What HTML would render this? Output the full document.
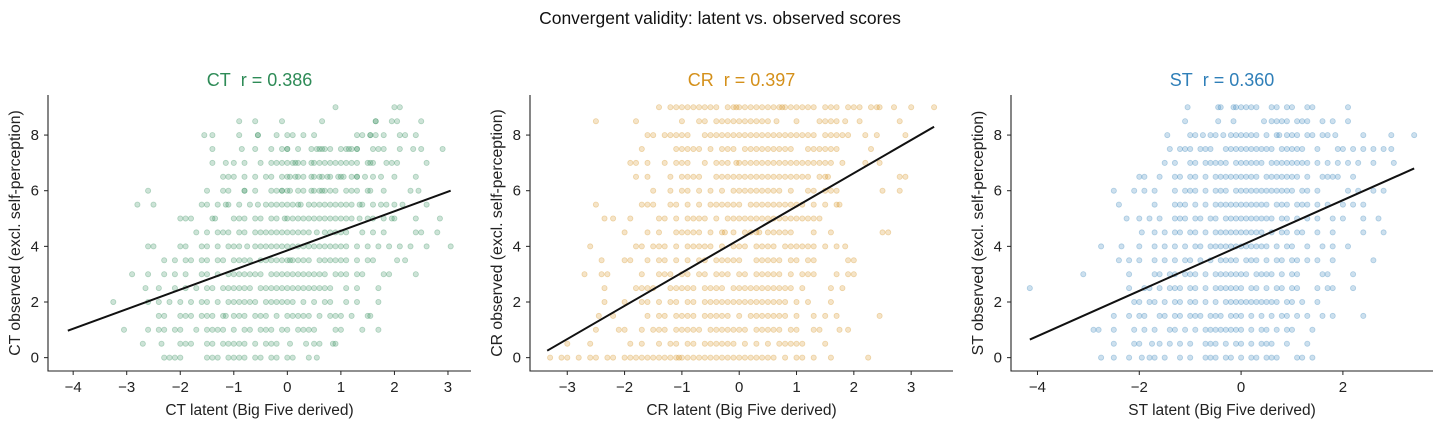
<!DOCTYPE html>
<html><head><meta charset="utf-8"><style>
html,body{margin:0;padding:0;background:#fff;}
svg{display:block;font-family:"Liberation Sans",sans-serif;}
</style></head><body>
<svg id="chart" width="1440" height="429" viewBox="0 0 1440 429" xmlns="http://www.w3.org/2000/svg">
<text x="720" y="24" text-anchor="middle" font-size="17.5" fill="#111">Convergent validity: latent vs. observed scores</text>
</svg>
<script>
const rowLevels = [9,8.5,8,7.5,7,6.5,6,5.5,5,4.5,4,3.5,3,2.5,2,1.5,1,0.5,0];
const ctRows = [
[0.9,2.0,2.1],
[-0.9,-0.6,-0.1,0.65,1.65,1.65,1.95,2.05,2.5],
[-1.55,-1.4,-0.9,-0.55,-0.55,-0.2,0,0.1,0.3,0.5,1.3,1.4,1.55,1.55,1.65,1.8,2.1,2.2,2.4],
[-1.4,-0.85,-0.6,-0.3,-0.1,0,0,0.2,0.45,0.55,0.6,0.65,0.7,0.8,1.0,1.1,1.15,1.2,1.3,1.3,1.6,1.7,1.8,2.1,2.35,2.5,2.9],
[-1.4,-1.15,-1,-0.8,-0.5,-0.3,-0.2,-0.1,0,0.1,0.15,0.2,0.3,0.45,0.5,0.6,0.7,0.8,0.9,1,1.1,1.2,1.3,1.5,1.55,1.6,1.85,1.95,2.05,2.6],
[-1.2,-1.1,-1,-0.8,-0.6,-0.4,-0.3,-0.1,0,0.05,0.15,0.2,0.3,0.45,0.5,0.6,0.65,0.75,0.8,0.95,1,1.05,1.2,1.3,1.3,1.45,1.6,1.75,2,2.4],
[-2.6,-1.5,-1.2,-1.1,-0.8,-0.8,-0.6,-0.3,-0.2,-0.1,-0.1,0,0.05,0.2,0.3,0.45,0.5,0.6,0.65,0.7,0.8,0.9,1.1,1.2,1.3,1.5,1.55,1.8,2.3,2.45],
[-2.8,-2.5,-1.6,-1.5,-1.3,-1.15,-1.1,-0.9,-0.7,-0.55,-0.4,-0.3,-0.2,-0.1,0,0.1,0.2,0.25,0.4,0.5,0.6,0.7,0.8,0.9,1,1.1,1.2,1.35,1.4,1.6,1.75,1.85,2.0,2.15,2.6],
[-2,-1.9,-1.8,-1.4,-1.35,-1,-0.9,-0.8,-0.6,-0.5,-0.3,-0.2,-0.05,0,0.1,0.2,0.3,0.4,0.5,0.6,0.7,0.8,0.9,1.0,1.1,1.2,1.35,1.5,1.6,1.8,1.95,2.0,2.4,2.85],
[-1.7,-1.5,-1.3,-1.2,-1.1,-0.9,-0.8,-0.6,-0.5,-0.4,-0.3,-0.2,-0.1,0,0.1,0.2,0.3,0.4,0.55,0.7,0.8,0.9,1.0,1.1,1.4,1.6,1.8,2.4,2.5,2.8],
[-2.6,-2.5,-2.0,-1.9,-1.6,-1.5,-1.3,-1.1,-1,-0.9,-0.75,-0.6,-0.5,-0.4,-0.3,-0.2,-0.1,0,0.1,0.2,0.3,0.4,0.5,0.6,0.7,0.8,0.9,1.0,1.1,1.3,1.5,1.7,1.9,2.1,2.3,2.6,3.05],
[-2.3,-2.1,-1.9,-1.8,-1.6,-1.5,-1.3,-1.2,-1.0,-0.9,-0.8,-0.7,-0.5,-0.4,-0.3,-0.2,-0.1,0,0.05,0.1,0.2,0.3,0.4,0.6,0.7,0.8,0.9,1.0,1.1,1.3,1.5,1.6,2.05,2.2],
[-2.9,-2.6,-2.3,-2.1,-1.9,-1.6,-1.5,-1.3,-1.1,-1,-0.9,-0.8,-0.7,-0.6,-0.5,-0.3,-0.2,-0.1,0,0.1,0.2,0.3,0.4,0.5,0.6,0.7,0.9,1.0,1.1,1.3,1.4,1.8,1.9,2.4],
[-2.65,-2.4,-2.1,-1.9,-1.7,-1.5,-1.4,-1.2,-1.1,-1,-0.9,-0.8,-0.7,-0.5,-0.4,-0.3,-0.2,-0.1,0,0.1,0.2,0.3,0.4,0.5,0.6,0.7,0.8,1.1,1.3,1.7],
[-3.25,-2.6,-2.4,-2.2,-2.0,-1.8,-1.6,-1.5,-1.3,-1.1,-1,-0.9,-0.8,-0.7,-0.6,-0.4,-0.3,-0.2,-0.1,0,0.1,0.3,0.5,0.7,0.8,1.1,1.3,1.7],
[-2.4,-2.3,-2.0,-1.9,-1.8,-1.6,-1.5,-1.4,-1.2,-1.15,-1,-0.9,-0.8,-0.6,-0.5,-0.4,-0.2,0,0.1,0.2,0.3,0.4,0.6,0.8,0.9,1.0,1.2,1.5,1.55],
[-3.05,-2.6,-2.4,-2.3,-2.1,-2.0,-1.7,-1.5,-1.4,-1.3,-1.2,-1.0,-0.8,-0.7,-0.5,-0.4,-0.3,-0.1,0,0.2,0.3,0.4,0.5,0.9,1.0,1.4,1.7],
[-2.7,-2.35,-2.0,-1.9,-1.8,-1.5,-1.4,-1.2,-1.1,-1,-0.9,-0.8,-0.6,-0.4,-0.3,-0.2,0.05,0.35,0.5,0.6,0.85,0.9],
[-2.3,-2.2,-2.1,-2.0,-1.5,-1.4,-1.3,-1.1,-1,-0.9,-0.8,-0.6,-0.5,-0.3,-0.2,0,0.1,0.4,0.55]
];
const crRows = [
[-1.4,-1.2,-1.1,-1,-0.9,-0.8,-0.7,-0.6,-0.5,-0.4,-0.2,-0.1,-0.05,0,0.1,0.2,0.3,0.4,0.5,0.6,0.7,0.75,0.8,0.9,1,1.1,1.2,1.3,1.5,1.6,1.7,1.9,2.0,2.1,2.3,2.4,2.45,2.7,3.0,3.4],
[-2.5,-1.8,-1.0,-0.7,-0.6,-0.4,-0.3,-0.2,-0.1,0,0.1,0.2,0.3,0.4,0.5,0.65,1.0,1.4,1.5,1.6,1.7,1.85,2.1,2.8],
[-1.6,-1.5,-1.3,-1.2,-1.1,-1.0,-0.9,-0.6,-0.5,-0.4,-0.3,-0.2,-0.1,0,0.1,0.2,0.3,0.4,0.5,0.6,0.7,0.8,0.9,1,1.1,1.2,1.3,1.5,1.6,1.7,1.8,1.9,2.2,2.4,2.9],
[-1.7,-1.1,-1.0,-0.9,-0.8,-0.7,-0.5,-0.3,-0.2,-0.1,0.1,0.2,0.3,0.4,0.5,0.6,0.7,0.8,0.9,1.2,1.3,1.4,1.5,1.6,1.7,2.3],
[-1.9,-1.8,-1.6,-1.3,-1.1,-1,-0.9,-0.6,-0.4,-0.3,-0.2,-0.05,0,0.1,0.2,0.3,0.4,0.5,0.6,0.7,0.8,0.9,1,1.1,1.2,1.3,1.4,1.5,1.6,1.8,2.2,2.45],
[-1.8,-1.6,-1.2,-1,-0.9,-0.8,-0.7,-0.4,-0.3,-0.2,-0.1,0,0.1,0.2,0.3,0.4,0.5,0.6,0.7,0.8,0.9,1.0,1.1,1.2,1.4,1.5,1.55,2.8,2.9],
[-1.5,-1.2,-1.0,-0.9,-0.7,-0.5,-0.3,-0.1,0,0.1,0.2,0.3,0.4,0.5,0.6,0.7,0.9,1.2,1.3,1.5,1.6,1.7,2.5,2.8],
[-2.5,-1.7,-1.6,-1.5,-1.2,-1.1,-0.9,-0.7,-0.5,-0.4,-0.3,-0.2,-0.1,0,0.2,0.3,0.4,0.5,0.6,0.7,0.8,0.9,1,1.1,1.3,1.5,1.7,1.75],
[-2.35,-2.2,-1.9,-1.4,-1.3,-1.1,-0.9,-0.8,-0.7,-0.6,-0.4,-0.2,-0.1,0,0.1,0.2,0.3,0.4,0.5,0.6,0.7,0.8,0.9,1.0,1.1,1.2,1.3,1.4],
[-2.0,-1.6,-1.4,-1.1,-1,-0.9,-0.8,-0.7,-0.5,-0.3,-0.25,-0.1,0.1,0.2,0.3,0.35,0.5,0.6,0.7,0.8,0.9,1.3,1.6,2.5,2.6],
[-2.6,-1.8,-1.7,-1.5,-1.4,-1.3,-1.1,-0.9,-0.8,-0.7,-0.6,-0.5,-0.3,-0.1,0,0.1,0.3,0.4,0.5,0.6,0.8,0.9,1,1.1,1.2,1.3,1.5,1.7,1.85],
[-2.4,-2.0,-1.9,-1.6,-1.4,-1.3,-1.1,-0.9,-0.7,-0.6,-0.4,-0.3,-0.2,-0.1,0,0.3,0.4,0.5,0.6,0.7,0.9,1.0,1.2,1.3,1.9,2.0],
[-2.7,-2.4,-2.3,-1.7,-1.4,-1.3,-1.2,-1.0,-0.9,-0.7,-0.6,-0.4,-0.3,-0.2,0,0.1,0.3,0.4,0.5,0.6,0.7,0.9,1.1,1.2,1.3,1.7,1.9,2.0],
[-2.35,-1.8,-1.7,-1.6,-1.5,-1.2,-1.1,-1,-0.9,-0.8,-0.6,-0.5,-0.4,-0.3,-0.1,0,0.1,0.2,0.3,0.4,0.5,0.6,0.7,0.8,0.9,1.1,1.6,1.8],
[-2.35,-2.0,-1.7,-1.6,-1.4,-1.2,-1.1,-0.9,-0.8,-0.6,-0.5,-0.4,-0.3,-0.2,-0.1,0,0.1,0.2,0.3,0.4,0.5,0.6,0.7,0.8,1.0,1.2,1.6],
[-2.45,-2.2,-1.6,-1.4,-1.3,-1.1,-1.0,-0.9,-0.8,-0.6,-0.5,-0.4,-0.3,-0.2,0,0.2,0.3,0.4,0.5,0.6,0.7,0.8,1.0,1.3,1.5,1.7,2.45],
[-2.5,-2.1,-2.0,-1.7,-1.5,-1.4,-1.3,-1.1,-1,-0.9,-0.8,-0.7,-0.5,-0.4,-0.3,-0.2,-0.1,0,0.1,0.3,0.4,0.5,0.6,0.7,0.9,1.0,1.3,1.4,1.75,1.9],
[-3.0,-2.6,-1.9,-1.7,-1.4,-1.2,-1.1,-0.9,-0.8,-0.6,-0.5,-0.4,-0.3,-0.2,-0.1,0.1,0.3,0.5,0.7,0.8,0.9,1.0,1.1,1.5],
[-3.3,-3.1,-3.0,-2.8,-2.6,-2.5,-2.3,-2.2,-2.0,-1.9,-1.8,-1.7,-1.6,-1.5,-1.4,-1.3,-1.2,-1.1,-1.05,-1,-0.9,-0.8,-0.7,-0.6,-0.5,-0.4,-0.3,-0.2,-0.1,0,0.1,0.2,0.3,0.4,0.5,0.6,0.8,1.0,1.1,1.3,1.6,2.25]
];
const stRows = [
[-1.05,-0.45,-0.4,-0.15,-0.1,0,0.1,0.2,0.3,0.6,0.7,0.9,1.0,1.3,1.4,2.1],
[-1.1,-0.45,-0.15,0.45,0.6,0.7,0.8,0.9,1.1,1.2,1.3,1.6,1.8,2.1],
[-1.45,-1.0,-0.9,-0.75,-0.6,-0.5,-0.35,-0.2,-0.1,0,0.1,0.2,0.3,0.5,0.7,0.75,0.9,1.0,1.1,1.3,1.4,1.6,1.7,1.85,2.4,2.95,3.4],
[-1.4,-1.2,-1.1,-1.0,-0.8,-0.7,-0.6,-0.3,-0.2,-0.1,0,0.1,0.2,0.3,0.4,0.5,0.6,0.8,0.9,1,1.1,1.2,1.5,1.9,2.0,2.2,2.4,2.6,2.8,2.95],
[-1.5,-1.3,-1,-0.9,-0.7,-0.6,-0.5,-0.4,-0.3,-0.1,0,0.1,0.2,0.3,0.4,0.6,0.7,0.8,0.9,1.0,1.1,1.2,1.3,1.5,1.7,1.9,2.1,2.3,2.6,3.0],
[-2.0,-1.9,-1.6,-1.3,-1.2,-1.0,-0.9,-0.7,-0.5,-0.4,-0.3,-0.2,-0.1,0,0.1,0.2,0.3,0.5,0.6,0.7,0.8,0.9,1.0,1.1,1.3,1.6,1.7,1.8,1.9,2.2],
[-2.5,-2.1,-1.9,-1.7,-1.3,-1.1,-1,-0.9,-0.7,-0.5,-0.4,-0.3,-0.1,0,0.1,0.2,0.3,0.4,0.5,0.6,0.7,0.8,0.9,1.0,1.2,1.3,1.5,2.1,2.3,2.6,2.8],
[-2.4,-1.7,-1.3,-1.2,-1.1,-0.9,-0.7,-0.5,-0.4,-0.3,-0.2,-0.1,0,0.1,0.2,0.3,0.4,0.5,0.7,0.8,0.9,1.1,1.2,1.3,1.5,1.7,2.0,2.2,2.4],
[-2.25,-2.0,-1.8,-1.6,-1.3,-1.2,-1.1,-0.9,-0.8,-0.6,-0.5,-0.3,-0.2,-0.1,0,0.1,0.2,0.3,0.4,0.5,0.6,0.8,0.9,1.1,1.3,1.5,1.8,2.0,2.4,2.7],
[-1.95,-1.7,-1.5,-1.3,-1.2,-1.0,-0.9,-0.7,-0.5,-0.4,-0.3,-0.2,-0.1,0,0.1,0.2,0.3,0.4,0.6,0.8,0.9,1.1,1.2,1.5,1.8,2.4,2.8],
[-2.75,-2.35,-2.0,-1.7,-1.5,-1.3,-1.1,-0.9,-0.8,-0.6,-0.5,-0.4,-0.3,-0.2,-0.1,0,0.1,0.2,0.3,0.4,0.5,0.7,0.9,1.0,1.3,1.6,1.8,2.1],
[-2.4,-2.2,-2.0,-1.7,-1.5,-1.3,-1.1,-1.0,-0.8,-0.6,-0.4,-0.3,-0.2,-0.1,0.1,0.2,0.3,0.5,0.7,0.8,1.0,1.1,1.3,1.5,1.8,2.6],
[-3.1,-2.2,-1.7,-1.6,-1.4,-1.3,-1.1,-1,-0.9,-0.7,-0.5,-0.4,-0.3,-0.2,-0.1,0,0.1,0.3,0.4,0.5,0.6,0.8,1.0,1.1,1.6,1.7,2.2],
[-4.15,-2.2,-1.9,-1.8,-1.6,-1.4,-1.3,-1.2,-1.0,-0.9,-0.7,-0.5,-0.4,-0.3,-0.2,-0.1,0,0.2,0.3,0.5,0.7,0.8,1.0,1.1,1.5,1.7,1.8,2.2],
[-2.1,-2.0,-1.8,-1.7,-1.5,-1.3,-1.2,-1.0,-0.9,-0.7,-0.5,-0.3,-0.2,-0.1,0,0.1,0.2,0.3,0.4,0.5,0.6,0.7,0.9,1.0,1.2,1.5],
[-2.5,-2.2,-2.0,-1.9,-1.6,-1.5,-1.3,-1.2,-1.0,-0.9,-0.8,-0.6,-0.5,-0.4,-0.2,-0.1,0,0.2,0.4,0.6,0.8,0.9,1.1,1.3,1.6,1.8,2.4],
[-2.9,-2.8,-2.5,-2.1,-1.9,-1.7,-1.4,-1.3,-1.1,-0.9,-0.7,-0.6,-0.5,-0.4,-0.3,-0.2,-0.1,0,0.2,0.4,0.5,0.7,0.9,1.0,1.4],
[-2.5,-2.1,-2.0,-1.75,-1.6,-1.4,-1.2,-1,-0.7,-0.6,-0.5,-0.3,-0.1,0,0.2,0.4,0.5,0.6,0.9,1.3],
[-2.75,-2.5,-2.2,-1.95,-1.8,-1.7,-1.5,-1.2,-1.0,-0.7,-0.6,-0.5,-0.3,-0.2,0,0.2,0.3,0.5,0.6,0.7,1.1,1.2,1.4]
];
const panelKeys = ["CT","CR","ST"];
const panelR = ["0.386","0.397","0.360"];
const fitStart = [[-4.1,0.97],[-3.35,0.25],[-4.15,0.65]];
const fitEnd = [[3.05,6.0],[3.4,8.3],[3.4,6.8]];
const xTicks = [[-4,-3,-2,-1,0,1,2,3],[-3,-2,-1,0,1,2,3],[-4,-2,0,2]];
const yTicks = [0,2,4,6,8];

const NS="http://www.w3.org/2000/svg";
const svg=document.getElementById('chart');
const colors=["#2e8b57","#d4901a","#2f7fb8"];
const layout=[{l:48,r:471,xmin:-4.47,xmax:3.43},{l:530,r:953,xmin:-3.65,xmax:3.73},{l:1011,r:1433,xmin:-4.52,xmax:3.77}];
const TOP=95,BOT=371,YMIN=-0.48,YMAX=9.44;
function mk(tag,attrs,parent){const e=document.createElementNS(NS,tag);for(const k in attrs)e.setAttribute(k,attrs[k]);(parent||svg).appendChild(e);return e;}
const allRows=[ctRows,crRows,stRows];
panelKeys.forEach((key,p)=>{
  const L=layout[p],col=colors[p];
  const xs=v=>L.l+(v-L.xmin)/(L.xmax-L.xmin)*(L.r-L.l);
  const ys=v=>BOT-(v-YMIN)/(YMAX-YMIN)*(BOT-TOP);
  const g=mk('g',{});
  
  
  const pts=mk('g',{},g);
  
  
  allRows[p].forEach((row,i)=>{row.forEach(x=>{
    const c=mk('circle',{cx:xs(x).toFixed(1),cy:ys(rowLevels[i]).toFixed(1),r:2.6,fill:col,'fill-opacity':0.24,stroke:col,'stroke-opacity':0.32,'stroke-width':0.8},pts);
    
    
  });});
  const fl=mk('line',{x1:xs(fitStart[p][0]),y1:ys(fitStart[p][1]),x2:xs(fitEnd[p][0]),y2:ys(fitEnd[p][1]),stroke:'#111','stroke-width':2},g);
  
  
  const ax=mk('path',{d:`M${L.l} ${TOP}V${BOT}H${L.r}`,fill:'none',stroke:'#222','stroke-width':1.1},g);
  
  
  xTicks[p].forEach(t=>{
    const x=xs(t);
    mk('line',{x1:x,y1:BOT,x2:x,y2:BOT+4,stroke:'#222'},g);
    const tx=mk('text',{x:x,y:BOT+21,'text-anchor':'middle','font-size':15,fill:'#222'},g);
    tx.textContent=(t<0?'\u2212'+(-t):t);
    
    
  });
  yTicks.forEach(t=>{
    const y=ys(t);
    mk('line',{x1:L.l-4,y1:y,x2:L.l,y2:y,stroke:'#222'},g);
    const tx=mk('text',{x:L.l-9,y:y+5,'text-anchor':'end','font-size':15,fill:'#222'},g);
    tx.textContent=t;
    
    
  });
  const cx=(L.l+L.r)/2;
  const tt=mk('text',{x:cx,y:86,'text-anchor':'middle','font-size':18,fill:col},g);
  tt.textContent=key+'\u00a0 r = '+panelR[p];
  
  
  const xl=mk('text',{x:cx,y:415,'text-anchor':'middle','font-size':15.5,fill:'#222'},g);
  xl.textContent=key+' latent (Big Five derived)';
  
  
  const yx=L.l-28,yc=(TOP+BOT)/2;
  const yl=mk('text',{x:yx,y:yc,'text-anchor':'middle','font-size':15.8,fill:'#222',transform:`rotate(-90 ${yx} ${yc})`},g);
  yl.textContent=key+' observed (excl. self-perception)';
  
  
});
</script>
</body></html>
